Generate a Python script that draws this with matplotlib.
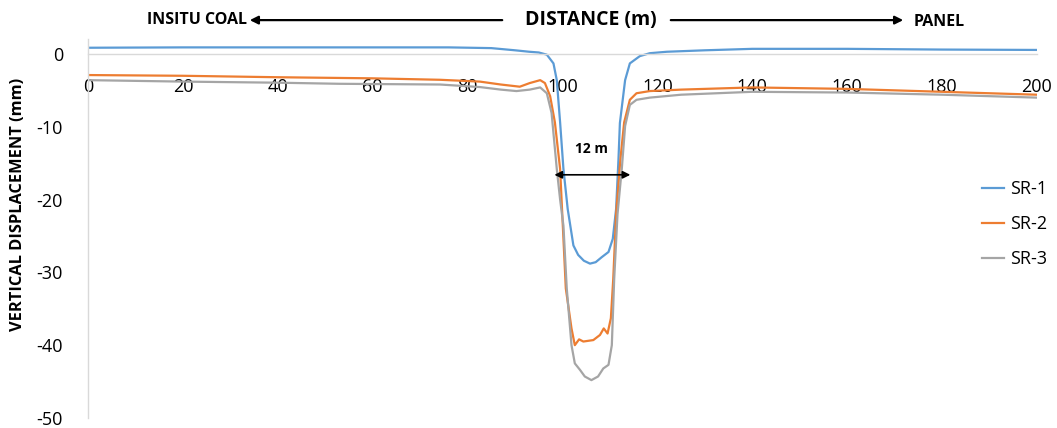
import matplotlib
matplotlib.use("Agg")
import matplotlib.pyplot as plt

plt.rcParams['font.family'] = ['Open Sans', 'DejaVu Sans']
plt.rcParams['axes.unicode_minus'] = False

# ------------------ data ------------------
sr1_x = [0, 20, 40, 60, 76, 85, 90, 93, 95, 96.7, 98.1, 98.8, 99.5, 100.2, 101.1, 102.3,
         103.3, 104.5, 105.8, 107, 108.3, 109.7, 110.6, 111.3, 111.8, 112.1, 113.2, 114.2,
         116.3, 118.4, 122, 130, 140, 160, 180, 200]
sr1_y = [0.85, 0.9, 0.9, 0.9, 0.9, 0.8, 0.5, 0.3, 0.2, -0.1, -1.3, -3.6, -9.4, -15.8, -21.3, -26.3,
         -27.6, -28.4, -28.8, -28.6, -27.9, -27.2, -25.4, -21.3, -14.5, -9.5, -3.6, -1.3,
         -0.3, 0.1, 0.3, 0.5, 0.7, 0.7, 0.6, 0.55]

sr2_x = [0, 20, 40, 60, 74.2, 82.6, 87, 91, 93.1, 95.3, 96.3, 97.4, 98.4, 99.5, 100.7, 101.9,
         102.6, 103.5, 104.4, 106.5, 107.9, 108.7, 109.5, 110.2, 110.7, 111.3, 112.2, 113.0,
         114.2, 115.6, 118.4, 125, 140, 160, 180, 200]
sr2_y = [-2.9, -3.0, -3.2, -3.35, -3.55, -3.8, -4.2, -4.5, -4.0, -3.6, -4.0, -5.8, -9.4, -15.8, -32.2, -37.7,
         -40.0, -39.2, -39.5, -39.3, -38.6, -37.7, -38.4, -36.3, -30.9, -22.0, -14.5, -9.4,
         -6.3, -5.4, -5.1, -4.9, -4.6, -4.8, -5.2, -5.6]

sr3_x = [0, 20, 40, 53, 74.2, 82.6, 87, 90.3, 93.1, 95.3, 96.7, 97.7, 98.8, 99.5, 100.2, 100.9,
         101.9, 102.6, 103.7, 104.7, 106.1, 107.5, 108.6, 109.7, 110.4, 110.9, 111.6, 112.5,
         113.2, 114.2, 115.6, 118.4, 125, 140, 160, 180, 200]
sr3_y = [-3.6, -3.8, -3.95, -4.1, -4.2, -4.55, -4.9, -5.1, -4.9, -4.6, -5.4, -8.1, -15.8, -20.0, -23.6, -32.2,
         -40.0, -42.5, -43.4, -44.3, -44.8, -44.3, -43.2, -42.7, -40.0, -30.9, -22.0, -15.8,
         -9.9, -7.0, -6.3, -6.0, -5.6, -5.2, -5.3, -5.6, -6.0]

series_names = ['SR-1', 'SR-2', 'SR-3']
series_colors = ['#5B9BD5', '#ED7D31', '#A5A5A5']
x_ticks = [0, 20, 40, 60, 80, 100, 120, 140, 160, 180, 200]
y_ticks = [0, -10, -20, -30, -40, -50]

# ------------------ figure ------------------
fig = plt.figure(figsize=(10.57, 4.28), dpi=100)
ax = fig.add_axes([0.0833, 0.0234, 0.8977, 0.8846])

for xs, ys, name, col in zip([sr1_x, sr2_x, sr3_x], [sr1_y, sr2_y, sr3_y],
                             series_names, series_colors):
    ax.plot(xs, ys, color=col, lw=1.6, label=name, solid_joinstyle='round')

ax.set_xlim(0, 200)
ax.set_ylim(-50, 2)

# axis at y = 0, Excel style
ax.spines['bottom'].set_position(('data', 0))
for s in ['top', 'right']:
    ax.spines[s].set_visible(False)
for s in ['bottom', 'left']:
    ax.spines[s].set_color('#D9D9D9')
    ax.spines[s].set_linewidth(1.0)

ax.set_xticks(x_ticks)
ax.set_yticks(y_ticks)
ax.tick_params(axis='x', length=0, pad=17, labelsize=13, colors='#000000')
ax.tick_params(axis='y', length=0, pad=18, labelsize=13, colors='#000000')

ax.set_ylabel('VERTICAL DISPLACEMENT (mm)', fontsize=11.8, fontweight='bold')
ax.yaxis.set_label_coords(-0.065, 0.563)

# top annotations
fig.text(0.1866, 0.953, 'INSITU COAL', fontsize=11.5, fontweight='bold', ha='center', va='center')
fig.text(0.5585, 0.953, 'DISTANCE (m)', fontsize=14, fontweight='bold', ha='center', va='center')
fig.text(0.8885, 0.949, 'PANEL', fontsize=11.5, fontweight='bold', ha='center', va='center')
fig.add_artist(matplotlib.patches.FancyArrowPatch((505 / 1057, 0.953), (247 / 1057, 0.953),
               transform=fig.transFigure, arrowstyle='-|>', mutation_scale=12, lw=1.6, color='black'))
fig.add_artist(matplotlib.patches.FancyArrowPatch((668 / 1057, 0.953), (906 / 1057, 0.953),
               transform=fig.transFigure, arrowstyle='-|>', mutation_scale=12, lw=1.6, color='black'))

# 12 m width marker
ax.annotate('', xy=(98.3, -16.6), xytext=(114.3, -16.6),
            arrowprops=dict(arrowstyle='<|-|>', color='black', lw=1.2, mutation_scale=11,
                            shrinkA=0, shrinkB=0))
ax.text(106.2, -13.0, '12 m', fontsize=10, fontweight='bold', ha='center', va='center')

ax.legend(loc='center left', bbox_to_anchor=(0.942, 0.512), frameon=False, fontsize=13,
          handlelength=1.25, handletextpad=0.3, labelspacing=0.95, borderaxespad=0,
          borderpad=0)

fig.savefig('out.png', dpi=100)
